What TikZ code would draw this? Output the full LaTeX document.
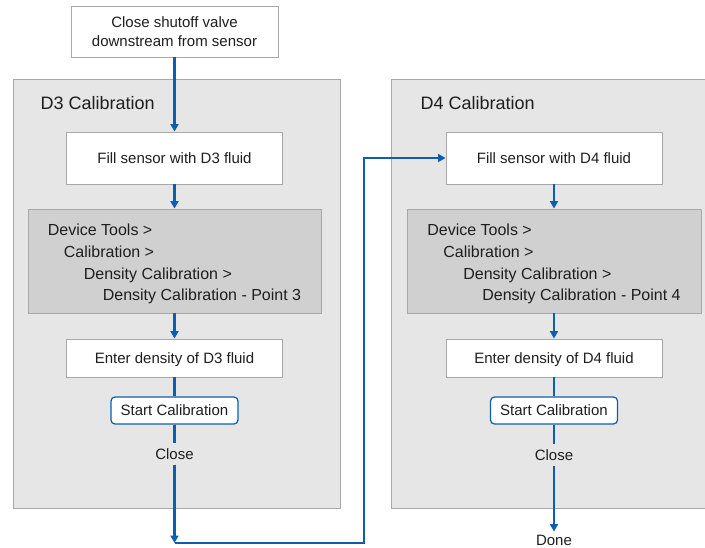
\documentclass[tikz,border=0pt]{standalone}
\usepackage{fontspec}
\setmainfont{Liberation Sans}
\usetikzlibrary{arrows.meta}

\definecolor{flowblue}{HTML}{0B5FAE}
\definecolor{panelgray}{HTML}{E6E6E6}
\definecolor{menugray}{HTML}{D0D0D0}
\definecolor{edgegray}{HTML}{A8A8A8}
\definecolor{inkgray}{HTML}{1E1E1E}

\begin{document}
\begin{tikzpicture}[x=1pt, y=-1pt,
  every node/.style={font=\fontsize{15}{19}\selectfont, text=inkgray},
  panel/.style={draw=edgegray, fill=panelgray, line width=0.9pt, anchor=north west, inner sep=0pt},
  stepbox/.style={draw=edgegray, fill=white, line width=0.9pt, minimum width=216pt, minimum height=52pt},
  menubox/.style={draw=edgegray, fill=menugray, line width=0.9pt, minimum width=293pt,
    minimum height=104pt, align=left, font=\fontsize{16}{21.7}\selectfont,
    text height=80pt, text depth=0pt},
  button/.style={draw=flowblue, fill=white, rounded corners=4pt, line width=1.2pt,
    minimum width=127pt, minimum height=27pt, inner sep=0pt},
  heading/.style={anchor=base west, font=\fontsize{18}{20}\selectfont},
  flow/.style={draw=flowblue, line width=2.4pt},
  arrowed/.style={-{Triangle[length=7.5pt 0 0,width=8pt 0 0]}},
  backline/.style={draw=flowblue, line width=1.6pt}]
  \def\L{174.5} % left column axis
  \def\R{554}   % right column axis

  \useasboundingbox (0,0) rectangle (705,548);
  \clip (0,0) rectangle (705,548);

  % the two calibration panels
  \node[panel, minimum width=327pt, minimum height=429pt] (panel3) at (13,79) {};
  \node[panel, minimum width=330pt, minimum height=429pt] (panel4) at (391,79) {};
  \node[heading] (head3) at (37,110) {D3 Calibration};
  \node[heading] (head4) at (417,110) {D4 Calibration};

  % first step, above the panels
  \node[stepbox, minimum width=207pt, minimum height=51pt, align=center] (valve) at (\L,31.5)
    {Close shutoff valve\\downstream from sensor};

  % D3 column
  \node[stepbox] (fill3) at (\L,158) {Fill sensor with D3 fluid};
  \node[menubox] (menu3) at (\L,261) {Device Tools >\\\hspace*{16pt}Calibration >\\
    \hspace*{36pt}Density Calibration >\\\hspace*{55pt}Density Calibration - Point 3};
  \node[stepbox, minimum height=38pt, text depth=0pt] (enter3) at (\L,358) {Enter density of D3 fluid};
  \node[button] (start3) at (\L,410.5) {Start Calibration};
  \node[inner sep=5pt] (close3) at (\L,454) {Close};
  \coordinate (turn3) at (\L,543);
  \coordinate (jog) at (364,543);

  % D4 column
  \node[stepbox] (fill4) at (\R,158) {Fill sensor with D4 fluid};
  \node[menubox, minimum width=294pt] (menu4) at (\R,261) {Device Tools >\\\hspace*{16pt}Calibration >\\
    \hspace*{36pt}Density Calibration >\\\hspace*{55pt}Density Calibration - Point 4};
  \node[stepbox, minimum height=38pt, text depth=0pt] (enter4) at (\R,358) {Enter density of D4 fluid};
  \node[button] (start4) at (\R,410.5) {Start Calibration};
  \node[inner sep=5pt] (close4) at (\R,455) {Close};
  \node[inner sep=3pt] (done) at (\R,540) {Done};

  % connectors
  \draw[flow, arrowed] (valve) -- (fill3);
  \draw[flow, arrowed] (fill3) -- (menu3);
  \draw[flow, arrowed] (menu3) -- (enter3);
  \draw[flow] (enter3) -- (start3);
  \draw[flow] (start3) -- (close3);
  \draw[flow, arrowed] (close3) -- (turn3);
  \draw[backline, arrowed] (turn3) -- (jog) |- (fill4.west);

  \draw[flow, arrowed] (fill4) -- (menu4);
  \draw[flow, arrowed] (menu4) -- (enter4);
  \draw[flow] (enter4) -- (start4);
  \draw[flow] (start4) -- (close4);
  \draw[flow, arrowed] (close4) -- (done);

\end{tikzpicture}
\end{document}
